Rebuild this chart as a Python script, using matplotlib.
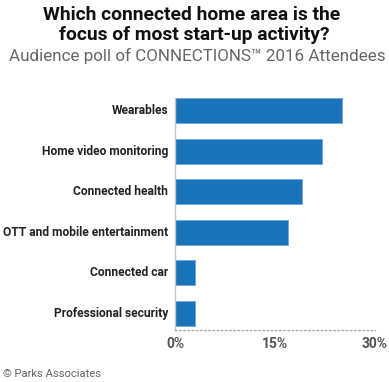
import matplotlib
matplotlib.use("Agg")
import matplotlib.pyplot as plt
import numpy as np

categories = ["Wearables", "Home video monitoring", "Connected health",
              "OTT and mobile entertainment", "Connected car", "Professional security"]
values = [25, 22, 19, 17, 3, 3]
xticks = [0, 15, 30]
xticklabels = ["0%", "15%", "30%"]

title_lines = ["Which connected home area is the", "focus of most start-up activity?"]
subtitle = "Audience poll of CONNECTIONS\u2122 2016 Attendees"
source = "\u00a9 Parks Associates"

FONT = ["Roboto", "DejaVu Sans"]

W, H = 389, 382
fig = plt.figure(figsize=(W / 100, H / 100), dpi=100)
ax = fig.add_axes([175 / W, (H - 330) / H, 200 / W, 232 / H])

y = np.arange(len(categories))
ax.barh(y, values, height=0.62, color="#1a73b9", edgecolor="#6fa8dc", linewidth=0.6)
ax.set_xlim(0, 30)
ax.set_ylim(5.415, -0.31)

for s in ["top", "right"]:
    ax.spines[s].set_visible(False)
ax.spines["left"].set_color("#c8c8c8")
ax.spines["left"].set_linewidth(1)
ax.spines["bottom"].set_color("#aaaaaa")
ax.spines["bottom"].set_linestyle((0, (1, 2)))
ax.spines["bottom"].set_linewidth(1)

ax.set_xticks(xticks)
ax.set_xticklabels(xticklabels)
ax.set_yticks(y)
ax.set_yticklabels([])
ax.tick_params(axis="both", length=0)
ax.tick_params(axis="x", pad=5)
for t in ax.get_xticklabels():
    t.set_fontfamily(FONT)
    t.set_fontweight("bold")
    t.set_color("#555555")
    t.set_fontsize(10)

renderer = fig.canvas.get_renderer()


def fit(txt, width):
    # scale font size so the text spans the target pixel width
    w = txt.get_window_extent(renderer).width
    txt.set_fontsize(txt.get_fontsize() * width / w)


label_texts = []
for yi, c in zip(y, categories):
    t = ax.text(-7 / 200 * 30, yi, c, ha="right", va="center", fontsize=10,
                fontweight="bold", color="#222222", family=FONT)
    label_texts.append(t)
# longest label spans about 166 px in the reference
w_long = label_texts[3].get_window_extent(renderer).width
scale = 166 / w_long
for t in label_texts:
    t.set_fontsize(t.get_fontsize() * scale)

t1 = fig.text(192 / W, 1 - 20 / H, title_lines[0], ha="center", va="baseline",
              fontsize=14, fontweight="bold", color="#111111", family=FONT)
fit(t1, 298)
t1b = fig.text(194 / W, 1 - 40 / H, title_lines[1], ha="center", va="baseline",
               fontsize=t1.get_fontsize(), fontweight="bold", color="#111111", family=FONT)

t2 = fig.text(197 / W, 1 - 61 / H, subtitle, ha="center", va="baseline", fontsize=11,
              color="#666666", family=FONT)
fit(t2, 376)

t3 = fig.text(3 / W, 1 - 377 / H, source, ha="left", va="baseline", fontsize=9,
              color="#666666", family=FONT)
fit(t3, 99)

fig.savefig("out.png", dpi=100)
